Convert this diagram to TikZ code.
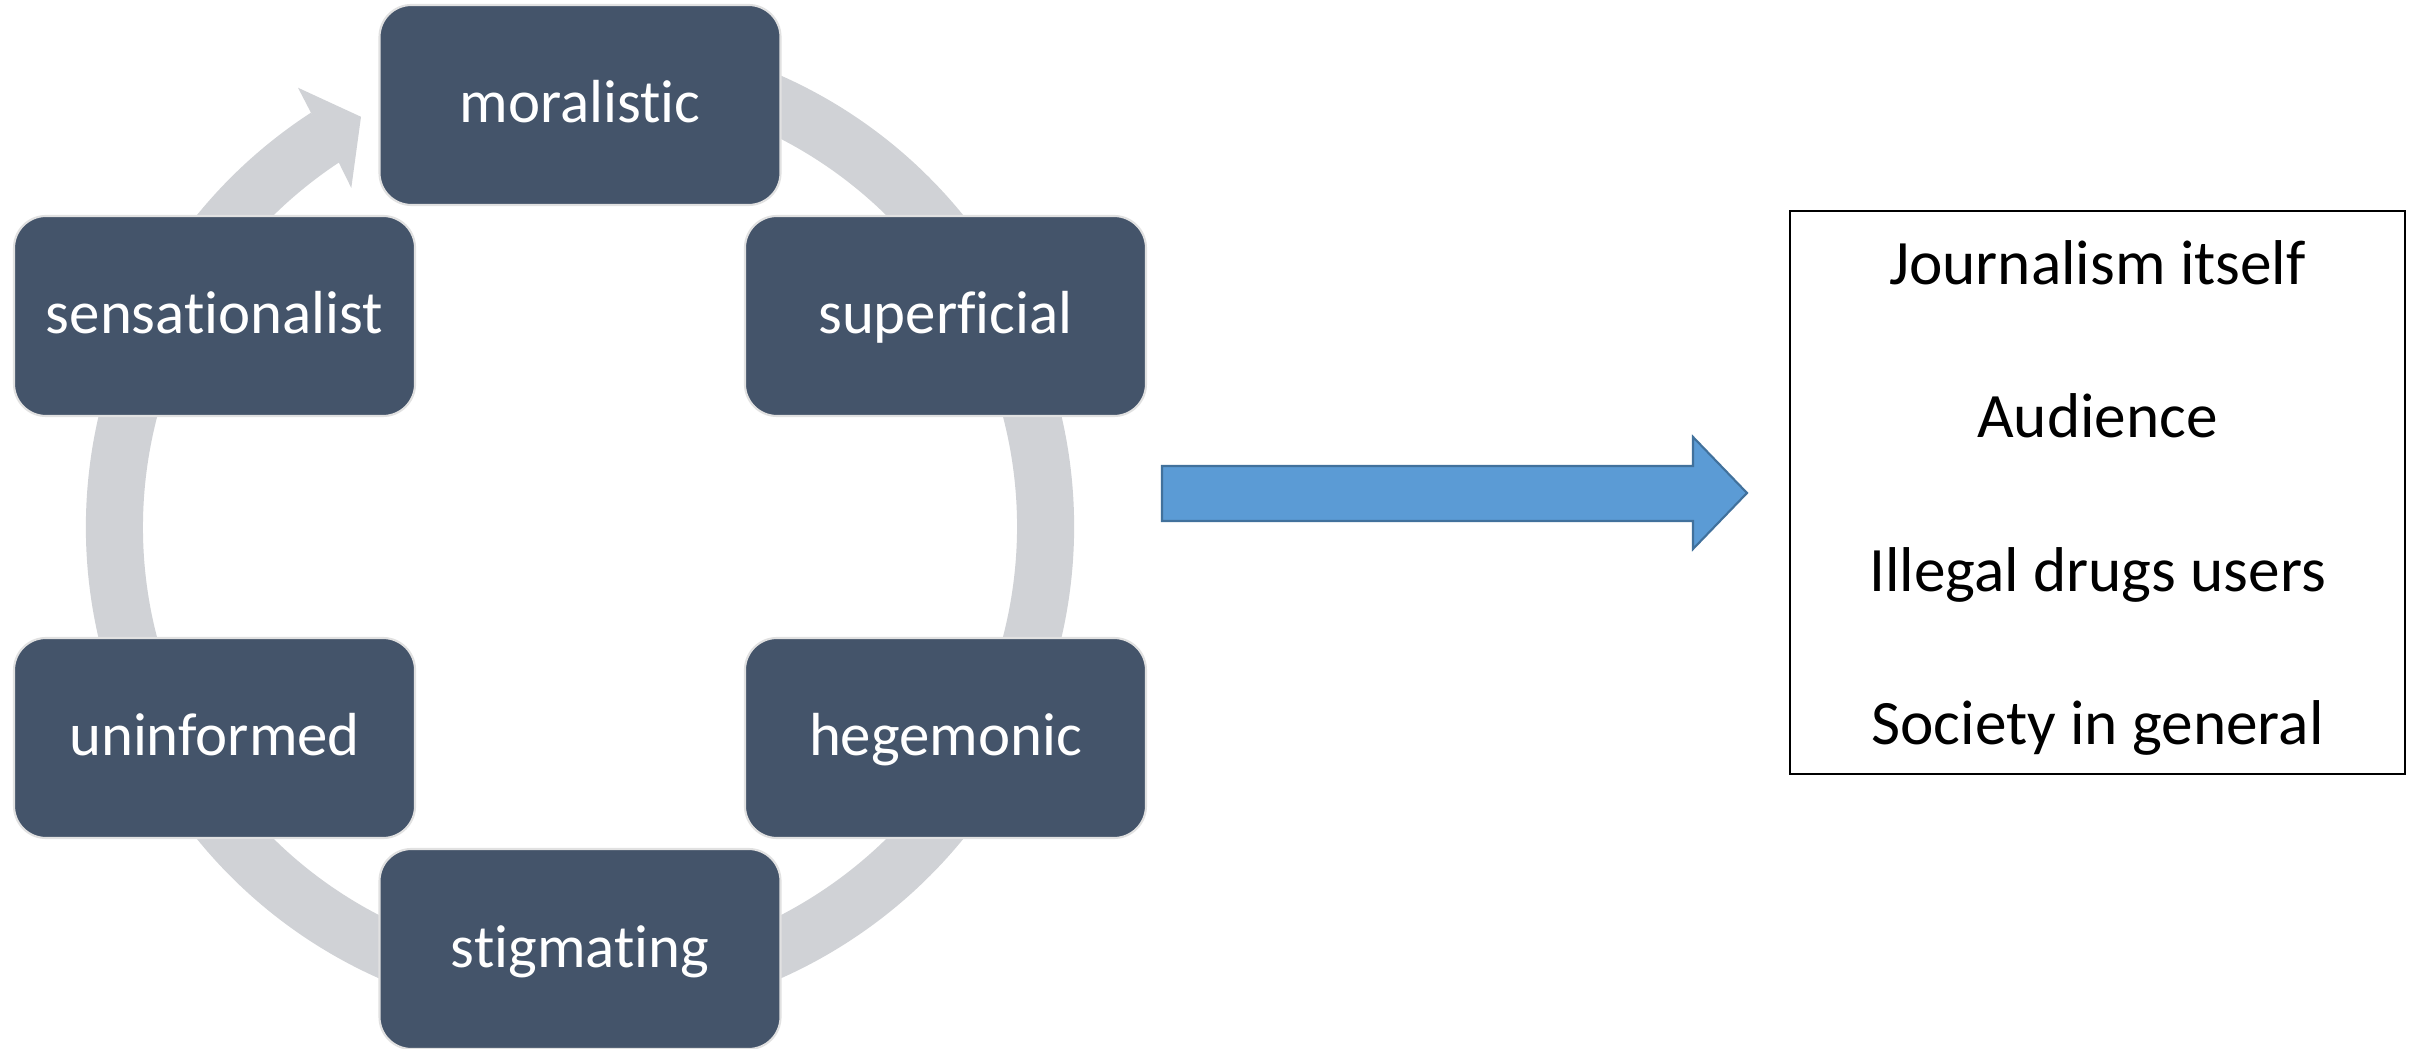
\documentclass[tikz,border=0pt]{standalone}
\usepackage{fontspec}
\setmainfont{Carlito}[Ligatures={CommonOff}]
\usetikzlibrary{calc}
\definecolor{boxfill}{HTML}{44546A}
\definecolor{ringc}{RGB}{208,210,214}
\definecolor{arrowfill}{HTML}{5B9BD5}
\definecolor{arrowline}{HTML}{41719C}
\definecolor{boxline}{RGB}{225,225,225}
\tikzset{
  cyclebox/.style={draw=boxline, line width=0.6pt, fill=boxfill, rounded corners=0.32cm,
    minimum width=4.01cm, minimum height=2.0cm, inner sep=0pt, text=white,
    font=\fontsize{17.3}{20}\selectfont, text height=0.5cm, text depth=0.14cm},
  targettext/.style={anchor=base, inner sep=0pt, text=black, font=\fontsize{18}{22}\selectfont},
  bigarrow/.style={fill=arrowfill, draw=arrowline, line width=0.6pt},
}
\begin{document}
\begin{tikzpicture}
\useasboundingbox (0,0) rectangle (24.17,10.48);
\fill[white] (0,0) rectangle (24.17,10.48);
\coordinate (C) at (5.80,5.21);
% circular ring with arrowhead
\fill[ringc] ($(C)+(75:4.94)$) arc[start angle=75, end angle=-237, radius=4.94]
  -- ($(C)+(123:4.37)$) arc[start angle=-237, end angle=75, radius=4.37] -- cycle;
\fill[ringc] ($(C)+(123:4.94)$) -- ($(C)+(122.7:5.22)$) -- ($(C)+(118.1:4.65)$)
  -- ($(C)+(124:4.09)$) -- ($(C)+(123.5:4.37)$) -- cycle;
% cycle boxes
\node[cyclebox] (moral) at ($(C)+(90:4.22)$) {moralistic};
\node[cyclebox] (super) at ($(C)+(30:4.22)$) {superficial};
\node[cyclebox] (hege) at ($(C)+(-30:4.22)$) {hegemonic};
\node[cyclebox] (stig) at ($(C)+(-90:4.22)$) {stigmating};
\node[cyclebox] (uninf) at ($(C)+(210:4.22)$) {uninformed};
\node[cyclebox] (sens) at ($(C)+(150:4.22)$) {sensationalist};
% block arrow
\draw[bigarrow] (11.62,5.27) -- (16.93,5.27) -- (16.93,4.99) -- (17.47,5.55)
  -- (16.93,6.11) -- (16.93,5.82) -- (11.62,5.82) -- cycle;
% target box
\node[draw=black, line width=0.6pt, minimum width=6.15cm, minimum height=5.63cm, inner sep=0pt] (targets) at (20.975,5.555) {};
\node[targettext] (t1) at (20.975,7.63) {Journalism itself};
\node[targettext] (t2) at (20.975,6.10) {Audience};
\node[targettext] (t3) at (20.975,4.56) {Illegal drugs users};
\node[targettext] (t4) at (20.975,3.03) {Society in general};
\end{tikzpicture}
\end{document}
